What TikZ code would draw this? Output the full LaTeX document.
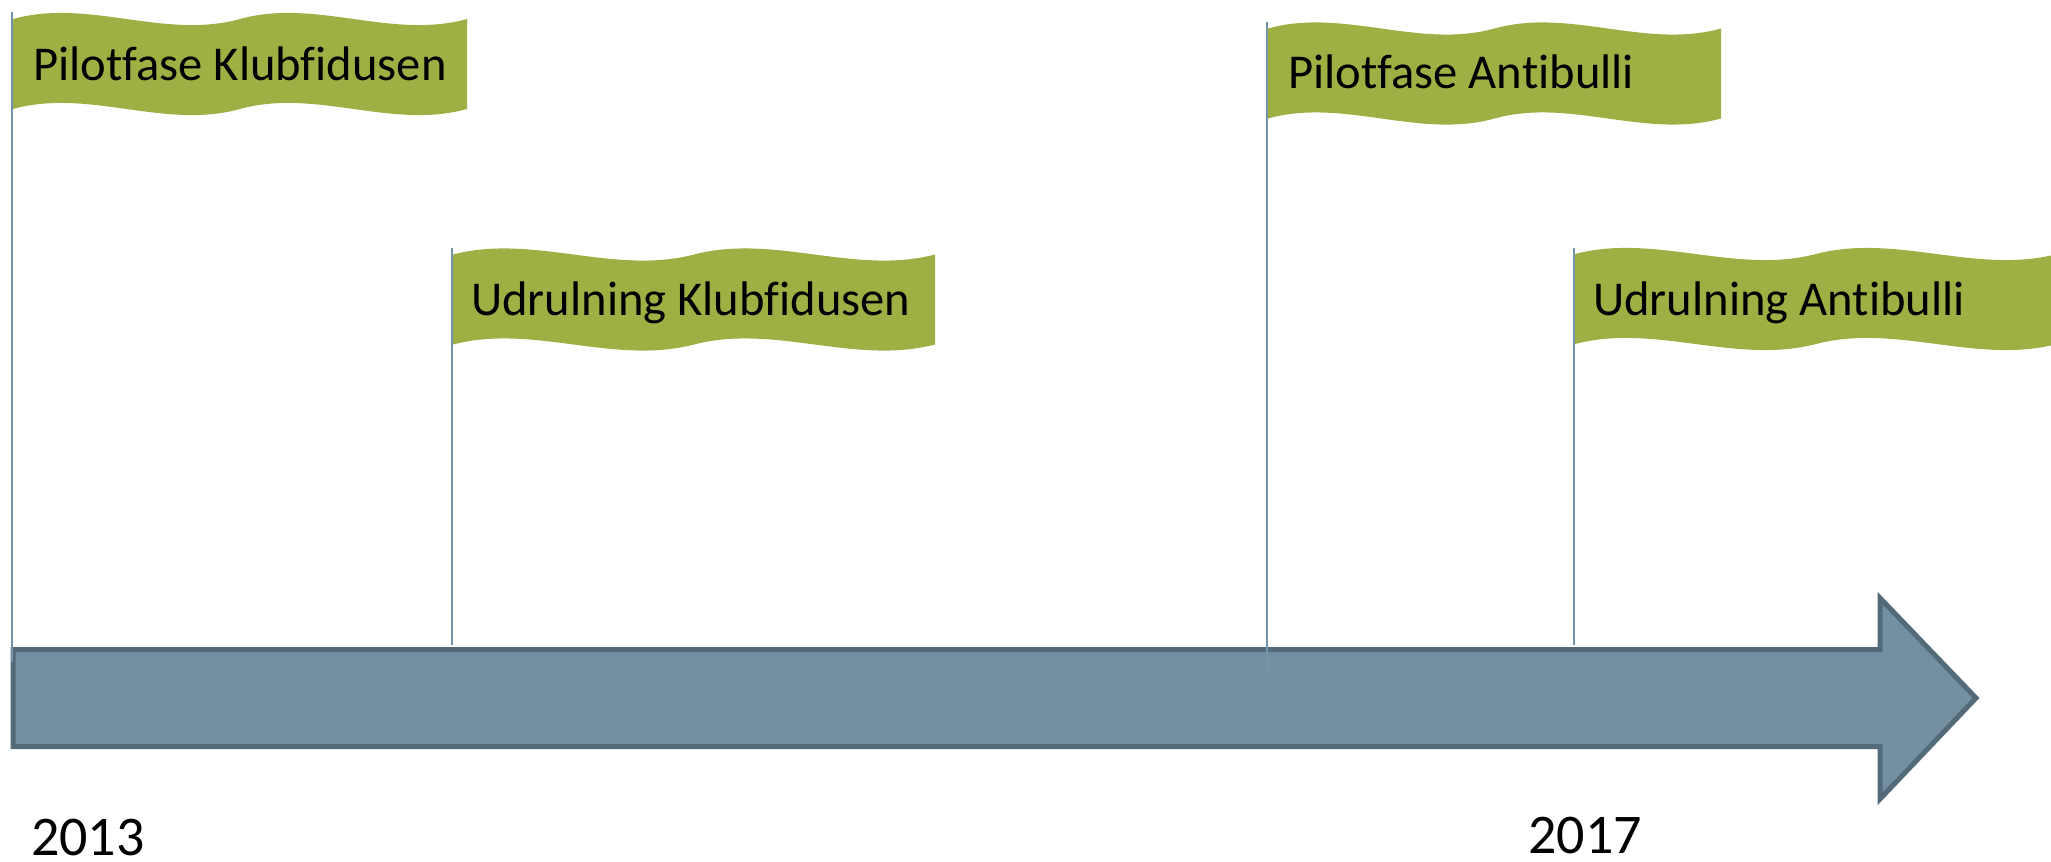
\documentclass[tikz,border=0pt]{standalone}
\usepackage{fontspec}
\setmainfont[Ligatures={NoCommon}]{Carlito}
\definecolor{flaggreen}{HTML}{A0AF44}
\definecolor{arrowfill}{HTML}{7390A2}
\definecolor{arrowline}{HTML}{536B79}
\definecolor{polecol}{HTML}{7393A8}
\tikzset{
  flagshape/.style={fill=flaggreen, draw=none},
  pole/.style={draw=polecol, line width=2.6pt},
  flagtext/.style={anchor=base west, inner sep=0pt, font=\fontsize{48.6}{58}\selectfont, text=black},
  yeartext/.style={anchor=base west, inner sep=0pt, font=\fontsize{56}{64}\selectfont, text=black},
  timearrow/.style={fill=arrowfill, draw=arrowline, line width=5pt, line join=miter},
}
% \wflag{x0}{ytop}{w}{h}  (pixel coords, y downward)
\newcommand{\wflag}[4]{%
  \pgfmathsetmacro{\fxa}{#1}%
  \pgfmathsetmacro{\fxb}{#1+#3/6}%
  \pgfmathsetmacro{\fxc}{#1+#3/3}%
  \pgfmathsetmacro{\fxd}{#1+#3/2}%
  \pgfmathsetmacro{\fxe}{#1+2*#3/3}%
  \pgfmathsetmacro{\fxf}{#1+5*#3/6}%
  \pgfmathsetmacro{\fxg}{#1+#3}%
  \pgfmathsetmacro{\fyt}{#2}%
  \pgfmathsetmacro{\fytu}{#2-21}%
  \pgfmathsetmacro{\fytd}{#2+21}%
  \pgfmathsetmacro{\fyb}{#2+#4}%
  \pgfmathsetmacro{\fybu}{#2+#4-21}%
  \pgfmathsetmacro{\fybd}{#2+#4+21}%
  \path[flagshape] (\fxa,\fyt)
    .. controls (\fxb,\fytu) and (\fxc,\fytd) .. (\fxd,\fyt)
    .. controls (\fxe,\fytu) and (\fxf,\fytd) .. (\fxg,\fyt)
    -- (\fxg,\fyb)
    .. controls (\fxf,\fybd) and (\fxe,\fybu) .. (\fxd,\fyb)
    .. controls (\fxc,\fybd) and (\fxb,\fybu) .. (\fxa,\fyb)
    -- cycle;%
}
\begin{document}
\begin{tikzpicture}[x=1pt, y=-1pt]
\useasboundingbox (0,0) rectangle (2051,862);
\clip (0,0) rectangle (2051,862);

% poles behind the arrow (short ones)
\draw[pole] (452,248) -- (452,645);
\draw[pole] (1574,248) -- (1574,645);

% timeline arrow
\path[timearrow] (13,649.5) -- (1880,649.5) -- (1880,598) -- (1976,698)
  -- (1880,799) -- (1880,746.5) -- (13,746.5) -- cycle;

% poles on top of the arrow
\draw[pole] (12,12) -- (12,662);
\draw[pole] (1267,22) -- (1267,672);

% flags
\wflag{13}{19}{454}{90}
\wflag{453}{254.5}{482}{90}
\wflag{1268}{28.5}{453}{90}
\wflag{1575}{254}{482}{90}

% flag texts
\node[flagtext] (t1) at (33,80) {Pilotfase Klubfidusen};
\node[flagtext] (t2) at (471,315) {Udrulning Klubfidusen};
\node[flagtext] (t3) at (1288,88) {Pilotfase Antibulli};
\node[flagtext] (t4) at (1593,315) {Udrulning Antibulli};

% years
\node[yeartext] (y1) at (31,855) {2013};
\node[yeartext] (y2) at (1528,853) {2017};
\end{tikzpicture}
\end{document}
